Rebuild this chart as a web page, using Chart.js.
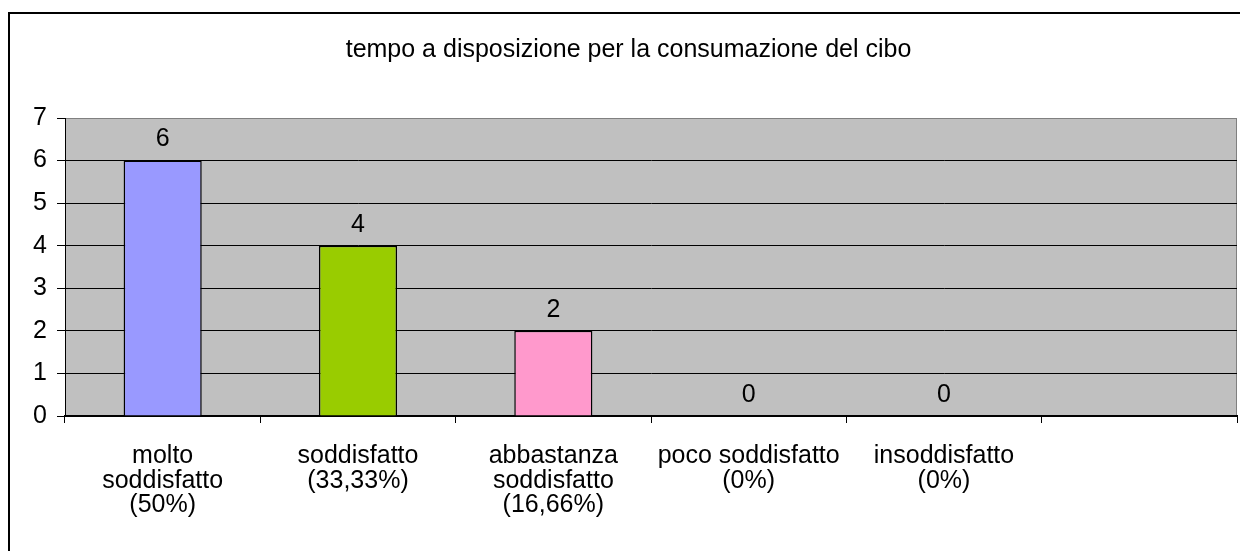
<!DOCTYPE html>
<html>
<head>
<meta charset="utf-8">
<script src="https://cdn.jsdelivr.net/npm/chart.js@4"></script>
<style>
  body { margin: 0; background: #fff; }
  #wrap { width: 1240px; height: 551px; }
</style>
</head>
<body>
<div id="wrap"><canvas id="barChart" width="1240" height="551"></canvas></div>
<script>
// chart data
const categories = [
    ['molto', 'soddisfatto', '(50%)'],
    ['soddisfatto', '(33,33%)'],
    ['abbastanza', 'soddisfatto', '(16,66%)'],
    ['poco soddisfatto', '(0%)'],
    ['insoddisfatto', '(0%)'],
    ''
];
const values = [6, 4, 2, 0, 0, null];
const barColors = ['#9999FF', '#99CC00', '#FF99CC', '#9999FF', '#99CC00', '#FF99CC'];
const chartTitle = 'tempo a disposizione per la consumazione del cibo';

const FONT = 'Liberation Sans, Arial, sans-serif';
const FSIZE = 25;

// gray plot area + outer frame
const frame = {
    id: 'frame',
    beforeDraw(chart) {
        const c = chart.ctx;
        const a = chart.chartArea;
        c.save();
        c.fillStyle = '#fff';
        c.fillRect(0, 0, chart.width, chart.height);
        c.strokeStyle = '#000';
        c.lineWidth = 2;
        c.strokeRect(9, 13, 1400, 1000);
        c.fillStyle = '#C0C0C0';
        c.fillRect(a.left, a.top, a.right - a.left, a.bottom - a.top);
        c.strokeStyle = '#808080';
        c.lineWidth = 1;
        c.strokeRect(a.left + 0.5, a.top + 0.5, a.right - a.left - 1, a.bottom - a.top);
        c.restore();
    }
};

// value labels above bars
const valueLabels = {
    id: 'valueLabels',
    afterDatasetsDraw(chart) {
        const c = chart.ctx;
        const meta = chart.getDatasetMeta(0);
        c.save();
        c.font = FSIZE + 'px ' + FONT;
        c.fillStyle = '#000';
        c.textAlign = 'center';
        c.textBaseline = 'middle';
        meta.data.forEach((bar, i) => {
            if (values[i] === null) return;
            c.fillText(String(values[i]), bar.x, bar.y - 21);
        });
        c.restore();
    }
};

const ctx = document.getElementById('barChart').getContext('2d');

const myChart = new Chart(ctx, {
    type: 'bar',
    data: {
        labels: categories,
        datasets: [{
            data: values,
            backgroundColor: barColors,
            borderColor: '#000',
            borderWidth: 1.5,
            barPercentage: 0.4,
            categoryPercentage: 1
        }]
    },
    options: {
        responsive: false,
        animation: false,
        layout: { padding: { left: 20, right: 3, top: 0, bottom: 0 } },
        plugins: {
            legend: { display: false },
            tooltip: { enabled: false },
            title: {
                display: true,
                text: chartTitle,
                color: '#000',
                font: { family: FONT, size: FSIZE, weight: 'normal', lineHeight: 1.2 },
                padding: { top: 35, bottom: 53 }
            }
        },
        scales: {
            x: {
                offset: true,
                grid: {
                    offset: true,
                    drawOnChartArea: false,
                    color: '#000',
                    tickLength: 7
                },
                border: { color: '#000', width: 2 },
                ticks: {
                    color: '#000',
                    maxRotation: 0,
                    autoSkip: false,
                    padding: 21,
                    font: { family: FONT, size: FSIZE, lineHeight: 0.98 }
                },
                afterFit(scale) { scale.height = 135; }
            },
            y: {
                min: 0,
                max: 7,
                ticks: {
                    stepSize: 1,
                    color: '#000',
                    padding: 10,
                    font: { family: FONT, size: FSIZE }
                },
                grid: {
                    color: (c) => c.tick && c.tick.value === 7 ? '#808080' : '#000',
                    tickColor: '#000',
                    tickLength: 8
                },
                border: { color: '#000', width: 1 },
                afterFit(scale) { scale.width = 45; }
            }
        }
    },
    plugins: [frame, valueLabels]
});
myChart.update();
</script>
</body>
</html>
